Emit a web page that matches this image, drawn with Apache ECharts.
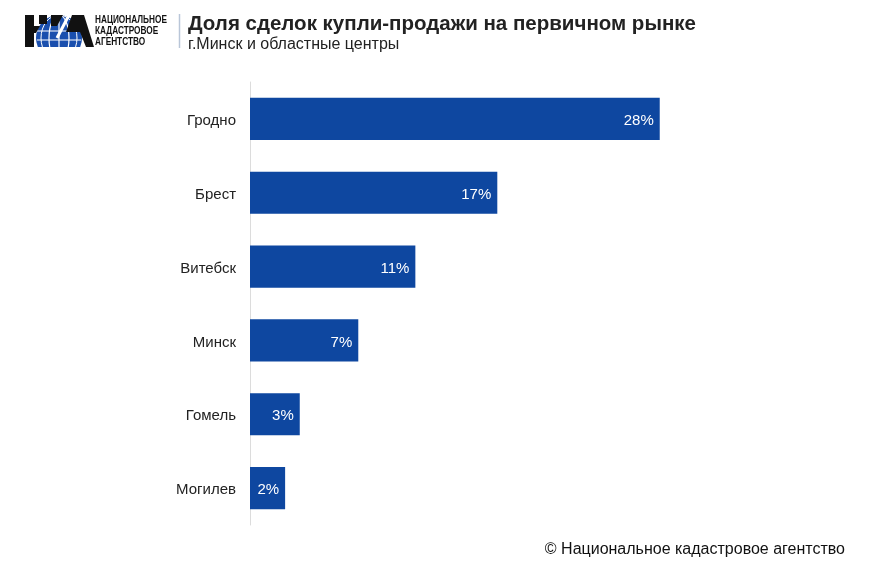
<!DOCTYPE html>
<html>
<head>
<meta charset="utf-8">
<script src="https://cdn.jsdelivr.net/npm/echarts@6/dist/echarts.min.js"></script>
<style>
  html, body { margin: 0; padding: 0; background: #fff; }
  #chart { width: 870px; height: 567px; }
</style>
</head>
<body>
<div id="chart"></div>
<script>
(function () {

  // города и доли (%)
  var cities = ['Гродно', 'Брест', 'Витебск', 'Минск', 'Гомель', 'Могилев'];
  var shares = [28.0, 16.9, 11.3, 7.4, 3.4, 2.4];

  var FONT = '"Liberation Sans", Arial, sans-serif';
  var BLUE = '#0e47a0';

  var myChart = echarts.init(document.getElementById('chart'));

  ///////////////////////////////////////////////////////////////////
  // логотип НКА (упрощённо)
  ///////////////////////////////////////////////////////////////////
  var logo = [
    { type: 'circle', shape: { cx: 59, cy: 38, r: 23 }, style: { fill: '#1a4fae' }, z: 10 },
    { type: 'ellipse', shape: { cx: 59, cy: 38, rx: 10, ry: 23 }, style: { fill: 'none', stroke: '#fff', lineWidth: 1.2 }, z: 11 },
    { type: 'ellipse', shape: { cx: 59, cy: 38, rx: 18, ry: 23 }, style: { fill: 'none', stroke: '#fff', lineWidth: 1 }, z: 11 },
    { type: 'line', shape: { x1: 36, y1: 31, x2: 82, y2: 31 }, style: { stroke: '#fff', lineWidth: 1.2 }, z: 11 },
    { type: 'line', shape: { x1: 37, y1: 40, x2: 81, y2: 40 }, style: { stroke: '#fff', lineWidth: 1.2 }, z: 11 },
    { type: 'line', shape: { x1: 59, y1: 14, x2: 59, y2: 47 }, style: { stroke: '#fff', lineWidth: 1.2 }, z: 11 },
    { type: 'rect', shape: { x: 20, y: 47, width: 80, height: 30 }, style: { fill: '#fff' }, z: 12 },
    { type: 'rect', shape: { x: 20, y: 0, width: 80, height: 15 }, style: { fill: '#fff' }, z: 12 },
    { type: 'polygon', shape: { points: [[25, 15], [34, 15], [34, 47], [25, 47]] }, style: { fill: '#111' }, z: 13 },
    { type: 'polygon', shape: { points: [[25, 26], [40, 26], [36, 33], [25, 33]] }, style: { fill: '#111' }, z: 13 },
    { type: 'polygon', shape: { points: [[39, 15], [47, 15], [47, 24], [39, 24]] }, style: { fill: '#111' }, z: 13 },
    { type: 'polygon', shape: { points: [[51, 15], [63, 15], [57, 26], [51, 26]] }, style: { fill: '#111' }, z: 13 },
    { type: 'polygon', shape: { points: [[72, 15], [84, 15], [94, 47], [86, 47], [80, 32], [66, 32]] }, style: { fill: '#111' }, z: 13 },
    { type: 'line', shape: { x1: 69, y1: 15, x2: 57, y2: 38 }, style: { stroke: '#fff', lineWidth: 3 }, z: 14 },
    {
      type: 'text', x: 95, y: 15, scaleX: 0.75, z: 15,
      style: {
        text: 'НАЦИОНАЛЬНОЕ\nКАДАСТРОВОЕ\nАГЕНТСТВО',
        font: 'bold 11px ' + FONT,
        lineHeight: 10.7, fill: '#111'
      }
    },
    { type: 'line', shape: { x1: 179.5, y1: 14, x2: 179.5, y2: 48 }, style: { stroke: '#b9c6d8', lineWidth: 1.5 }, z: 15 }
  ];

  var option = {
    backgroundColor: '#fff',
    animation: false,
    grid: { left: 250, top: 82, width: 439, height: 443 },
    xAxis: {
      type: 'value',
      min: 0,
      max: 30,
      show: false
    },
    yAxis: {
      type: 'category',
      data: cities,
      inverse: true,
      axisLine: { show: true, lineStyle: { color: '#dcdcdc', width: 1 } },
      axisTick: { show: false },
      axisLabel: {
        margin: 14,
        formatter: function (v) { return '{c|' + v + '}'; },
        rich: {
          c: { color: '#222', fontSize: 15, fontFamily: FONT, padding: [4, 0, 0, 0] }
        }
      }
    },
    series: [{
      type: 'bar',
      data: shares,
      barCategoryGap: '43%',
      itemStyle: { color: BLUE },
      label: {
        show: true,
        position: 'insideRight',
        distance: 6,
        offset: [0, 2],
        color: '#fff',
        fontSize: 15,
        fontFamily: FONT,
        formatter: function (p) { return Math.round(p.value) + '%'; }
      }
    }],
    graphic: logo.concat([
      {
        type: 'text', left: 188, top: 14,
        style: { text: 'Доля сделок купли-продажи на первичном рынке', font: 'bold 20.5px ' + FONT, fill: '#222' }
      },
      {
        type: 'text', left: 188, top: 37,
        style: { text: 'г.Минск и областные центры', font: '16px ' + FONT, fill: '#222' }
      },
      {
        type: 'text', right: 25, top: 542,
        style: { text: '© Национальное кадастровое агентство', font: '16px ' + FONT, fill: '#111' }
      }
    ])
  };

  myChart.setOption(option);
}());
</script>
</body>
</html>
